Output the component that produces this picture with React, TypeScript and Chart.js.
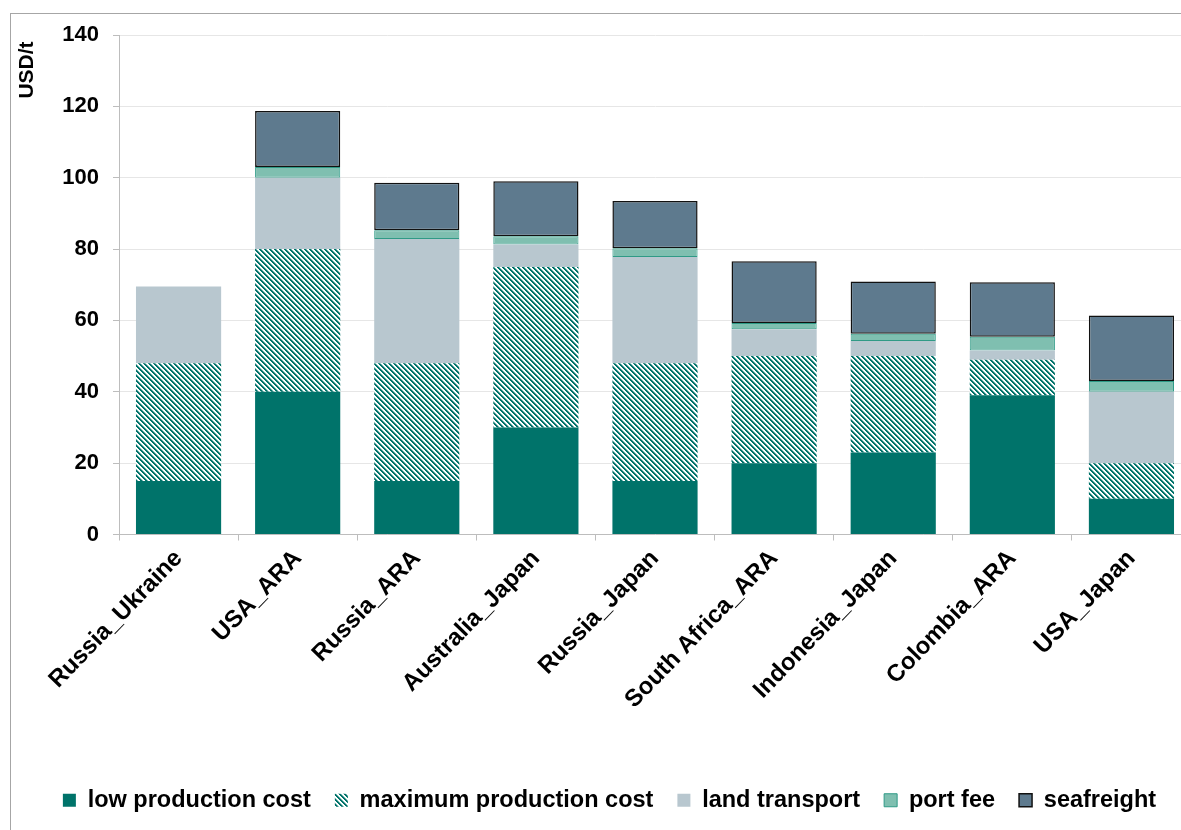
import React, { useEffect, useRef } from 'react';
import { Chart, registerables } from 'chart.js';

Chart.register(...registerables);

const categories = [
  'Russia_Ukraine',
  'USA_ARA',
  'Russia_ARA',
  'Australia_Japan',
  'Russia_Japan',
  'South Africa_ARA',
  'Indonesia_Japan',
  'Colombia_ARA',
  'USA_Japan',
];

const lowProductionCost = [15, 40, 15, 30, 15, 20, 23, 39, 10];
const maximumProductionCost = [33, 40, 33, 45, 33, 30, 27, 10, 10];
const landTransport = [21.5, 20, 34.8, 6.3, 29.8, 7.5, 4.2, 2.6, 20];
const portFee = [null, 3, 2.5, 2.3, 2.4, 1.8, 2.1, 3.8, 3];
const seafreight = [null, 15.7, 13.3, 15.4, 13.3, 17.3, 14.6, 15.3, 18.4];

const seriesNames = [
  'low production cost',
  'maximum production cost',
  'land transport',
  'port fee',
  'seafreight',
];

const yMin = 0;
const yMax = 140;
const yStep = 20;
const yTitle = 'USD/t';

const FONT = '"Liberation Sans", Arial, sans-serif';

export default function App() {
  const canvasRef = useRef<HTMLCanvasElement | null>(null);

  useEffect(() => {
    const canvas = canvasRef.current;
    if (!canvas) return;
    const ctx = canvas.getContext('2d')!;

    const P = 5;
    const tile = document.createElement('canvas');
    tile.width = P;
    tile.height = P;
    const tctx = tile.getContext('2d')!;
    tctx.fillStyle = '#ffffff';
    tctx.fillRect(0, 0, P, P);
    for (let y = 0; y < P; y++) {
      for (let x = 0; x < P; x++) {
        const k = (((x - y) % P) + P) % P;
        if (k < 2) {
          tctx.fillStyle = '#00736a';
          tctx.fillRect(x, y, 1, 1);
        } else if (k === 2) {
          tctx.fillStyle = '#7fb9b4';
          tctx.fillRect(x, y, 1, 1);
        }
      }
    }
    const hatch = ctx.createPattern(tile, 'repeat')!;

    const yTitlePlugin = {
      id: 'yTitleText',
      afterDraw(chart: any) {
        const c = chart.ctx;
        const area = chart.chartArea;
        c.save();
        c.translate(area.left - 92, area.top + 35);
        c.rotate(-Math.PI / 2);
        c.font = `bold 21px ${FONT}`;
        c.fillStyle = '#000';
        c.textAlign = 'center';
        c.textBaseline = 'middle';
        c.fillText(yTitle, 0, 0);
        c.restore();
      },
    };

    const chart = new Chart(canvas, {
      type: 'bar',
      data: {
        labels: categories,
        datasets: [
          {
            label: seriesNames[0],
            data: lowProductionCost,
            backgroundColor: '#00736a',
            borderWidth: 0,
          },
          {
            label: seriesNames[1],
            data: maximumProductionCost,
            backgroundColor: hatch,
            borderWidth: 0,
          },
          {
            label: seriesNames[2],
            data: landTransport,
            backgroundColor: '#b8c7cf',
            borderWidth: 0,
          },
          {
            label: seriesNames[3],
            data: portFee as any,
            backgroundColor: '#7fbfb0',
            borderColor: '#2f9a86',
            borderWidth: 1,
            borderSkipped: false,
          },
          {
            label: seriesNames[4],
            data: seafreight as any,
            backgroundColor: '#5e7a8e',
            borderColor: '#111111',
            borderWidth: 1.5,
            borderSkipped: false,
          },
        ],
      },
      options: {
        responsive: false,
        animation: false,
        layout: { padding: { left: 28, right: 9, top: 35, bottom: 8 } },
        datasets: {
          bar: { categoryPercentage: 1, barPercentage: 0.715 },
        },
        plugins: {
          legend: {
            position: 'bottom',
            labels: {
              boxWidth: 13,
              boxHeight: 13,
              padding: 24,
              color: '#000',
              font: { family: FONT, size: 23.5, weight: 'bold' },
            },
          },
          tooltip: { enabled: false },
          title: { display: false },
        },
        scales: {
          x: {
            stacked: true,
            afterFit(scale: any) {
              scale.height = 230;
            },
            grid: {
              offset: true,
              drawOnChartArea: false,
              drawTicks: true,
              tickLength: 6,
              tickColor: '#bdbdbd',
            },
            border: { display: true, color: '#bdbdbd', width: 1 },
            ticks: {
              maxRotation: 46,
              minRotation: 46,
              autoSkip: false,
              padding: 4,
              color: '#000',
              font: { family: FONT, size: 24, weight: 'bold' },
            },
          },
          y: {
            stacked: true,
            min: yMin,
            max: yMax,
            afterFit(scale: any) {
              scale.width = 91;
            },
            grid: {
              color: '#e6e6e6',
              tickColor: '#bdbdbd',
              tickLength: 6,
              drawTicks: true,
            },
            border: { display: true, color: '#bdbdbd', width: 1 },
            ticks: {
              stepSize: yStep,
              padding: 14,
              color: '#000',
              font: { family: FONT, size: 22, weight: 'bold' },
            },
          },
        },
      },
      plugins: [yTitlePlugin],
    });

    return () => chart.destroy();
  }, []);

  return (
    <div
      style={{
        position: 'fixed',
        left: 0,
        top: 0,
        width: 1181,
        height: 830,
        overflow: 'hidden',
        background: '#ffffff',
      }}
    >
      <div
        style={{
          position: 'absolute',
          left: 10,
          top: 13,
          width: 1300,
          height: 900,
          borderLeft: '1px solid #a6a6a6',
          borderTop: '1px solid #a6a6a6',
        }}
      />
      <canvas
        ref={canvasRef}
        width={1200}
        height={830}
        style={{ position: 'absolute', left: 0, top: 0, width: 1200, height: 830 }}
      />
    </div>
  );
}
